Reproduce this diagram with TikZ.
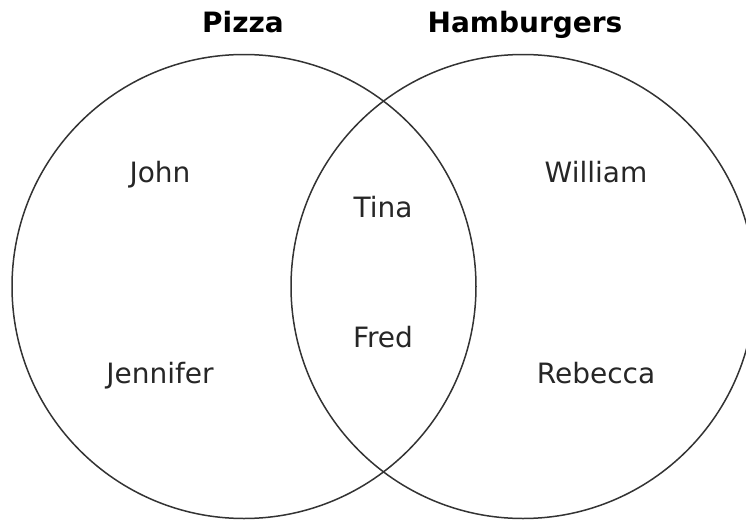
\documentclass[tikz,border=0pt]{standalone}
\usepackage{fontspec}
\setmainfont{DejaVu Sans}
\usepackage{tikz}
\usetikzlibrary{positioning}

\begin{document}
\begin{tikzpicture}[
    x=0.5pt, y=-0.5pt,
    set/.style={draw=black!80, line width=0.75pt},
    title/.style={anchor=base, font=\fontsize{14pt}{17pt}\selectfont\bfseries, text=black},
    member/.style={anchor=base, font=\fontsize{14pt}{17pt}\selectfont, text=black!85}
]
\useasboundingbox (0,0) rectangle (746,520);

% Sets
\coordinate (cpizza) at (244,286.5);
\coordinate (cburger) at (523,286.5);
\draw [set] (cpizza) circle [radius=116pt];
\draw [set] (cburger) circle [radius=116pt];

% Titles
\node (pizza) [title] at (243,32) {Pizza};
\node (burger) [title] at (525,32) {Hamburgers};

% Members
\node (john) [member] at (160,182) {John};
\node (jennifer) [member] at (160,383) {Jennifer};
\node (tina) [member] at (383,217) {Tina};
\node (fred) [member] at (383,347) {Fred};
\node (william) [member] at (596,182) {William};
\node (rebecca) [member] at (596,383) {Rebecca};

\end{tikzpicture}
\end{document}
